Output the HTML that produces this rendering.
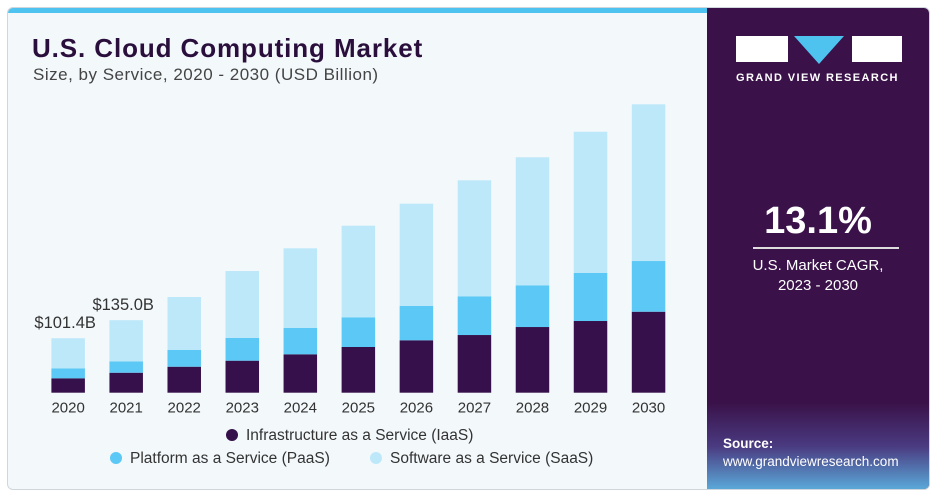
<!DOCTYPE html>
<html><head><meta charset="utf-8"><style>
body{margin:0;width:936px;height:494px;background:#fff;font-family:"Liberation Sans",sans-serif;overflow:hidden}
#card{position:absolute;left:7px;top:7px;width:921px;height:481px;border:1px solid #cfd6dc;border-radius:6px;overflow:hidden;background:#f3f8fb}
#strip{position:absolute;left:0;top:0;width:699px;height:5px;background:#4fc3f0}
#side{position:absolute;left:699px;top:0;width:222px;height:481px;background:#3a1249}
#grid{position:absolute;left:0;top:395px;width:222px;height:86px;background:linear-gradient(#3a1249,#4a3a80 50%,#5aa8d8)}
.t{position:absolute;white-space:nowrap}
</style></head><body>
<div id="card">
<div id="strip"></div>
<div class="t" style="left:24px;top:25px;font-size:26px;font-weight:bold;color:#2a0f3c;letter-spacing:0.9px">U.S. Cloud Computing Market</div>
<div class="t" style="left:25px;top:57px;font-size:17px;color:#444;letter-spacing:0.5px">Size, by Service, 2020 - 2030 (USD Billion)</div>
<svg id="chart" width="699" height="481" style="position:absolute;left:0;top:0"></svg>
<div id="side">
<div id="grid"></div>
<div style="position:absolute;left:29px;top:28px;width:52px;height:26px;background:#fff"></div>
<div style="position:absolute;left:87px;top:28px;width:0;height:0;border-left:25px solid transparent;border-right:25px solid transparent;border-top:28px solid #4fc3f0"></div>
<div style="position:absolute;left:145px;top:28px;width:50px;height:26px;background:#fff"></div>
<div class="t" style="left:29px;top:64px;font-size:11px;font-weight:bold;color:#fff;letter-spacing:1.4px">GRAND VIEW RESEARCH</div>
<div class="t" style="left:0;width:222px;text-align:center;top:192px;font-size:38px;font-weight:bold;color:#fff">13.1%</div>
<div style="position:absolute;left:46px;top:239px;width:146px;height:2px;background:#ddd"></div>
<div class="t" style="left:0;width:222px;text-align:center;top:248px;font-size:15px;line-height:20px;color:#fff">U.S. Market CAGR,<br>2023 - 2030</div>
<div class="t" style="left:16px;top:428px;font-size:13.5px;font-weight:bold;color:#fff">Source:</div>
<div class="t" style="left:16px;top:446px;font-size:13.5px;color:#fff">www.grandviewresearch.com</div>
</div>
</div>
<script>
const years=["2020","2021","2022","2023","2024","2025","2026","2027","2028","2029","2030"];
const iaas=[26.8,37.2,48.4,59.6,71.5,85.1,97.6,107.4,122.3,133.5,150.8];
const paas=[18.6,21.2,31.1,42.3,49.0,55.3,63.9,72.1,77.7,89.4,94.4];
const saas=[56.0,76.6,98.7,124.7,148.4,170.6,190.5,216.0,238.4,263.1,291.8];
const totalLabels=["$101.4B","$135.0B"];
const NS="http://www.w3.org/2000/svg";
const svg=document.getElementById('chart');
const base=384.7, pxPer=0.537, x0=43.4, step=58.04, bw=33.5;
const X=i=>x0+i*step;
const Y=v=>base-v*pxPer;
function mk(tag,attrs){const e=document.createElementNS(NS,tag);for(const k in attrs)e.setAttribute(k,attrs[k]);svg.appendChild(e);return e;}
const series=[[iaas,"#35104a","iaas"],[paas,"#5bc8f5","paas"],[saas,"#bde8f9","saas"]];
years.forEach((yr,i)=>{
  let cum=0;
  series.forEach(([arr,col,nm])=>{
    const r=mk('rect',{x:X(i),y:Y(cum+arr[i]),width:bw,height:arr[i]*pxPer,fill:col});
    
    
    cum+=arr[i];
  });
  const t=mk('text',{x:X(i)+bw/2,y:base+20,'text-anchor':'middle','font-size':'15','fill':'#333'});
  t.textContent=yr;
  
  
  if(i<totalLabels.length){
    const l=mk('text',{x:X(i)+bw/2-3,y:Y(cum)-10,'text-anchor':'middle','font-size':'16.5','fill':'#333'});
    l.textContent=totalLabels[i];
    
    
  }
});
const legend=[["Infrastructure as a Service (IaaS)","#35104a",224,432],["Platform as a Service (PaaS)","#5bc8f5",108,455],["Software as a Service (SaaS)","#bde8f9",368,455]];
legend.forEach(([txt,col,lx,ly],k)=>{
  const c=mk('circle',{cx:lx,cy:ly-5,r:6,fill:col});
  
  
  const t=mk('text',{x:lx+14,y:ly,'font-size':'15.5','fill':'#333'});
  t.textContent=txt;
  
  
});
</script>
</body></html>
